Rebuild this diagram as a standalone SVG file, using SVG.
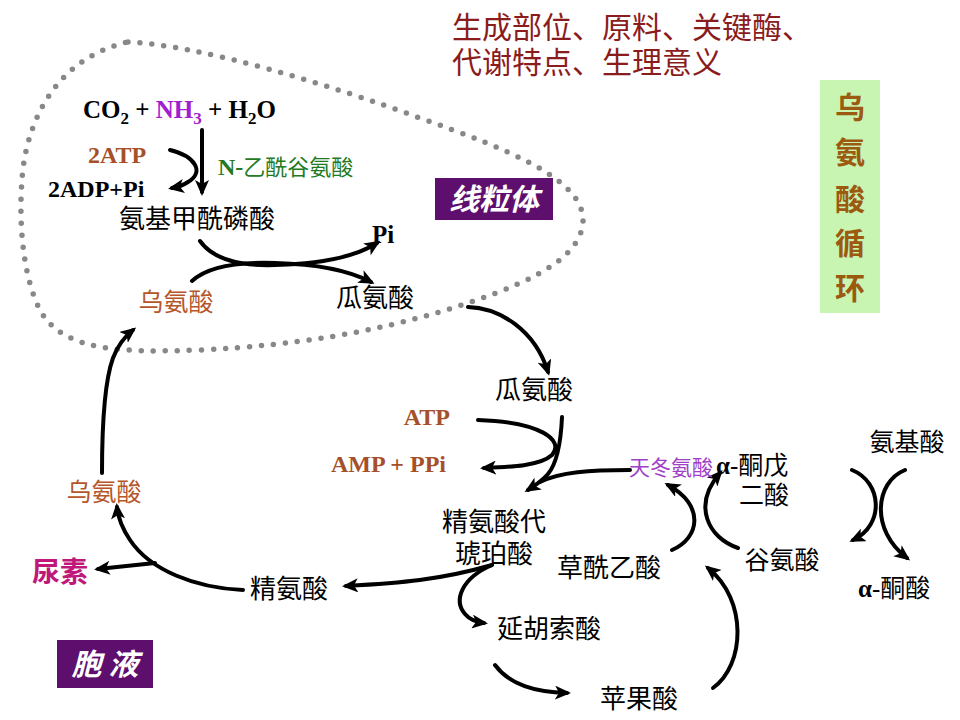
<svg xmlns="http://www.w3.org/2000/svg" width="960" height="720" viewBox="0 0 960 720">
<defs>
<marker id="ah" markerUnits="userSpaceOnUse" markerWidth="16" markerHeight="14" refX="12" refY="7" orient="auto">
<path d="M0,0 L16,7 L0,14 L4,7 Z" fill="#000"/>
</marker>
<style>
.cn{font-family:"Liberation Serif","Noto Sans CJK SC",serif;fill:#000;}
.lat{font-family:"Liberation Serif","Noto Sans CJK SC",serif;font-weight:bold;}
.brown{fill:#a5502a;}
.arr{fill:none;stroke:#000;stroke-width:4;stroke-linecap:round;marker-end:url(#ah);}
.ln{fill:none;stroke:#000;stroke-width:4;stroke-linecap:round;}
.box{fill:#5e0f6e;}
.boxt{font-family:"Noto Sans CJK SC",sans-serif;font-weight:bold;font-style:italic;fill:#fff;font-size:30px;}
</style>
</defs>
<rect width="960" height="720" fill="#fff"/>

<g id="mito-boundary">
<path d="M128,42 C200,45 330,85 420,118 C510,150 585,180 583,222 C580,265 510,290 440,312 C370,332 300,345 200,350 C120,353 70,350 45,318 C25,290 18,230 22,180 C25,130 50,60 128,42 Z" fill="none" stroke="#888" stroke-width="5.5" stroke-linecap="round" stroke-dasharray="0 12"/>
</g>

<g id="title">
<text class="cn" x="452" y="38" font-size="30" style="fill:#8b1c1c">生成部位、原料、关键酶、</text>
<text class="cn" x="452" y="73" font-size="30" style="fill:#8b1c1c">代谢特点、生理意义</text>
</g>

<g id="cycle-label">
<rect x="820" y="80" width="60" height="233" fill="#c8f5b2"/>
<g class="cn" font-size="30" font-weight="bold" text-anchor="middle" style="fill:#9c5a10">
<text x="850" y="118">乌</text>
<text x="850" y="163">氨</text>
<text x="850" y="210">酸</text>
<text x="850" y="254">循</text>
<text x="850" y="299">环</text>
</g>
</g>

<g id="mito-label">
<rect class="box" x="435" y="178" width="118" height="42"/>
<text class="boxt" x="494" y="210" text-anchor="middle">线粒体</text>
</g>

<g id="cyto-label">
<rect class="box" x="57" y="640" width="96" height="48"/>
<text class="boxt" x="105" y="675" text-anchor="middle">胞 液</text>
</g>

<g id="connectors">
<path class="arr" d="M202,130 L202,192"/>
<path class="arr" d="M170,150 C195,156 205,172 188,182 C182,186 178,187 172,188"/>
<path class="arr" d="M200,241 C215,262 245,266 275,265 C320,264 355,257 377,243"/>
<path class="arr" d="M192,281 C210,264 245,262 275,263 C315,264 348,270 371,282"/>
<path class="arr" d="M468,307 C500,308 535,330 548,372"/>
<path class="arr" d="M478,420 C540,422 565,440 552,455 C540,466 510,467 484,468"/>
<path class="arr" d="M562,417 C561,440 558,462 548,474 C542,481 536,485 528,490"/>
<path class="ln" d="M630,470 C590,470 560,472 540,482"/>
<path class="arr" d="M672,550 C700,538 705,505 668,485"/>
<path class="arr" d="M738,548 C708,538 692,505 720,473"/>
<path class="arr" d="M852,470 C882,482 885,525 853,540"/>
<path class="arr" d="M905,470 C875,482 870,530 907,558"/>
<path class="arr" d="M492,565 C440,580 400,583 346,586"/>
<path class="arr" d="M492,565 C462,578 453,600 465,614 C470,620 476,622 484,623"/>
<path class="arr" d="M495,665 C510,685 535,692 567,693"/>
<path class="arr" d="M713,688 C745,665 748,600 708,568"/>
<path class="arr" d="M243,590 C195,588 150,570 130,540 C122,528 118,518 117,507"/>
<path class="arr" d="M155,563 C135,565 118,567 98,569"/>
<path class="arr" d="M102,473 C102,420 105,380 113,358 C118,345 124,337 133,330"/>
</g>

<g id="n-co2">
<text class="lat" x="83" y="118" font-size="25"><tspan>CO</tspan><tspan font-size="17" dy="6">2</tspan><tspan dy="-6"> + </tspan><tspan fill="#a020d0">NH</tspan><tspan fill="#a020d0" font-size="17" dy="6">3</tspan><tspan dy="-6"> + H</tspan><tspan font-size="17" dy="6">2</tspan><tspan dy="-6">O</tspan></text>
</g>
<g id="n-2atp"><text class="lat brown" x="88" y="163" font-size="24">2ATP</text></g>
<g id="n-2adp"><text class="lat" x="48" y="197" font-size="24">2ADP+Pi</text></g>
<g id="n-nag"><text class="cn" x="218" y="175" font-size="22" style="fill:#237a23"><tspan font-weight="bold" font-size="24">N-</tspan>乙酰谷氨酸</text></g>
<g id="n-cp"><text class="cn" x="197" y="228" font-size="26" text-anchor="middle">氨基甲酰磷酸</text></g>
<g id="n-pi"><text class="lat" x="372" y="243" font-size="25">Pi</text></g>
<g id="n-orn1"><text class="cn" x="176" y="311" font-size="25" text-anchor="middle" style="fill:#b5562a">乌氨酸</text></g>
<g id="n-cit1"><text class="cn" x="375" y="307" font-size="26" text-anchor="middle">瓜氨酸</text></g>
<g id="n-cit2"><text class="cn" x="534" y="399" font-size="26" text-anchor="middle">瓜氨酸</text></g>
<g id="n-atp"><text class="lat brown" x="450" y="425" font-size="24" text-anchor="end">ATP</text></g>
<g id="n-amp"><text class="lat brown" x="446" y="472" font-size="24" text-anchor="end">AMP + PPi</text></g>
<g id="n-asp"><text class="cn" x="671" y="475" font-size="21" text-anchor="middle" style="fill:#a040c8">天冬氨酸</text></g>
<g id="n-akg"><text class="cn" x="716" y="474" font-size="25"><tspan font-weight="bold">α</tspan>-酮戊</text><text class="cn" x="764" y="504" font-size="25" text-anchor="middle">二酸</text></g>
<g id="n-aa"><text class="cn" x="907" y="451" font-size="25" text-anchor="middle">氨基酸</text></g>
<g id="n-glu"><text class="cn" x="782" y="569" font-size="25" text-anchor="middle">谷氨酸</text></g>
<g id="n-keto"><text class="cn" x="858" y="597" font-size="25"><tspan font-weight="bold">α</tspan>-酮酸</text></g>
<g id="n-oaa"><text class="cn" x="609" y="577" font-size="26" text-anchor="middle">草酰乙酸</text></g>
<g id="n-as"><text class="cn" x="494" y="531" font-size="26" text-anchor="middle">精氨酸代</text><text class="cn" x="494" y="563" font-size="26" text-anchor="middle">琥珀酸</text></g>
<g id="n-fum"><text class="cn" x="549" y="638" font-size="26" text-anchor="middle">延胡索酸</text></g>
<g id="n-mal"><text class="cn" x="639" y="708" font-size="26" text-anchor="middle">苹果酸</text></g>
<g id="n-arg"><text class="cn" x="289" y="598" font-size="26" text-anchor="middle">精氨酸</text></g>
<g id="n-orn2"><text class="cn" x="104" y="501" font-size="25" text-anchor="middle" style="fill:#b5562a">乌氨酸</text></g>
<g id="n-urea"><text class="cn" x="60" y="582" font-size="28" font-weight="bold" text-anchor="middle" style="fill:#c0187a">尿素</text></g>
</svg>
